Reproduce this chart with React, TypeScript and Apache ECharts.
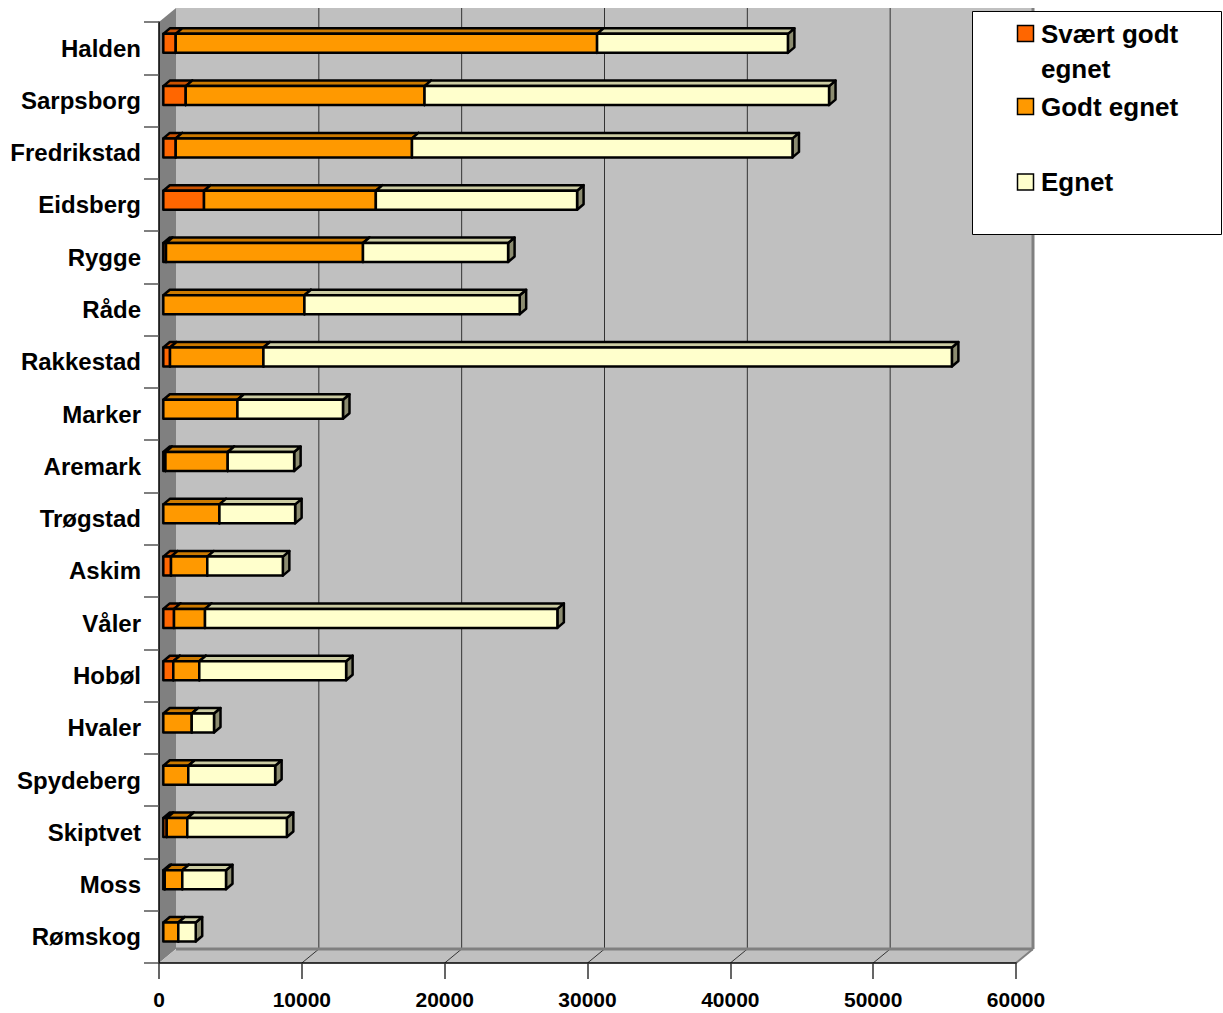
import React, { useEffect, useRef } from 'react';
import * as echarts from 'echarts';

// Municipalities (top to bottom) and area per suitability class
const municipalities = [
  'Halden', 'Sarpsborg', 'Fredrikstad', 'Eidsberg', 'Rygge', 'Råde', 'Rakkestad', 'Marker', 'Aremark',
  'Trøgstad', 'Askim', 'Våler', 'Hobøl', 'Hvaler', 'Spydeberg', 'Skiptvet', 'Moss', 'Rømskog',
];
const svaertGodtEgnet = [870, 1570, 870, 2850, 190, 0, 470, 0, 150, 0, 540, 750, 700, 0, 0, 240, 100, 0];
const godtEgnet = [29500, 16720, 16540, 12030, 13790, 9880, 6540, 5190, 4360, 3930, 2540, 2170, 1820, 1990, 1750, 1440, 1230, 1050];
const egnet = [13360, 28320, 26640, 14090, 10160, 15070, 48200, 7390, 4650, 5300, 5290, 24670, 10280, 1560, 6080, 6970, 3060, 1220];

const seriesNames = ['Svært godt egnet', 'Godt egnet', 'Egnet'];
const legendLabels = ['Svært godt\negnet', 'Godt egnet', 'Egnet'];
const seriesColors = ['#FF6600', '#FF9900', '#FFFFCC'];
const xTicks = [0, 10000, 20000, 30000, 40000, 50000, 60000];

const FONT = '"Liberation Sans", Arial, Helvetica, sans-serif';

// Perspective offsets of the 3D look
const WALL_DX = 17;
const WALL_DY = -14;
const BAR_OX = 4.3;
const BAR_OY = -4.8;
const BAR_DX = 6.5;
const BAR_DY = -5.5;
const BAR_H = 19;

function shade(hex: string, f: number): string {
  const n = parseInt(hex.slice(1), 16);
  const r = Math.round(((n >> 16) & 255) * f);
  const g = Math.round(((n >> 8) & 255) * f);
  const b = Math.round((n & 255) * f);
  return `rgb(${r},${g},${b})`;
}

export default function App() {
  const ref = useRef<HTMLDivElement>(null);

  useEffect(() => {
    if (!ref.current) return;
    const chart = echarts.init(ref.current, undefined, { renderer: 'svg' });

    const classes = [svaertGodtEgnet, godtEgnet, egnet];
    const stacked = classes.map((vals, s) =>
      vals.map((v, i) => {
        let start = 0;
        for (let k = 0; k < s; k++) start += classes[k][i];
        return [i, start, start + v];
      })
    );

    const wallSeries: any = {
      type: 'custom',
      name: 'walls',
      silent: true,
      z: 1,
      encode: { x: 0, y: 1 },
      data: [[0, 0]],
      renderItem: (params: any, api: any) => {
        const cs = params.coordSys;
        const gx = cs.x, gy = cs.y, gw = cs.width, gh = cs.height;
        const by = gy + gh;
        const children: any[] = [
          {
            type: 'polygon',
            shape: { points: [[gx + WALL_DX, gy + WALL_DY], [gx + gw + WALL_DX, gy + WALL_DY], [gx + gw + WALL_DX, by + WALL_DY], [gx + WALL_DX, by + WALL_DY]] },
            style: { fill: '#C0C0C0' },
          },
          {
            type: 'polygon',
            shape: { points: [[gx, gy], [gx + WALL_DX, gy + WALL_DY], [gx + WALL_DX, by + WALL_DY], [gx, by]] },
            style: { fill: '#808080' },
          },
          {
            type: 'polygon',
            shape: { points: [[gx, by], [gx + WALL_DX, by + WALL_DY], [gx + gw + WALL_DX, by + WALL_DY], [gx + gw, by]] },
            style: { fill: '#C0C0C0' },
          },
        ];
        xTicks.forEach((v) => {
          if (v === 0) return;
          const fx = api.coord([v, 0])[0];
          if (v < xTicks[xTicks.length - 1]) {
            children.push({
              type: 'line',
              shape: { x1: fx + WALL_DX, y1: gy + WALL_DY, x2: fx + WALL_DX, y2: by + WALL_DY },
              style: { stroke: '#333333', lineWidth: 1 },
            });
            children.push({
              type: 'line',
              shape: { x1: fx, y1: by, x2: fx + WALL_DX, y2: by + WALL_DY },
              style: { stroke: '#333333', lineWidth: 1 },
            });
          }
        });
        children.push({
          type: 'line',
          shape: { x1: gx + WALL_DX, y1: by + WALL_DY, x2: gx + gw + WALL_DX, y2: by + WALL_DY },
          style: { stroke: '#808080', lineWidth: 3 },
        });
        children.push({
          type: 'line',
          shape: { x1: gx + gw + WALL_DX, y1: gy + WALL_DY, x2: gx + gw + WALL_DX, y2: by + WALL_DY },
          style: { stroke: '#808080', lineWidth: 3 },
        });
        children.push({
          type: 'line',
          shape: { x1: gx + gw, y1: by, x2: gx + gw + WALL_DX, y2: by + WALL_DY },
          style: { stroke: '#808080', lineWidth: 2 },
        });
        return { type: 'group', children };
      },
    };

    const barSeries: any[] = stacked.map((data, s) => ({
      type: 'custom',
      name: seriesNames[s],
      z: 2 + s,
      encode: { y: 0, x: [1, 2] },
      itemStyle: { color: seriesColors[s] },
      data,
      renderItem: (_params: any, api: any) => {
        const cat = api.value(0);
        const a = api.value(1);
        const b = api.value(2);
        if (!(b - a > 0)) return { type: 'group', children: [] };
        const p0 = api.coord([a, cat]);
        const p1 = api.coord([b, cat]);
        const x0 = p0[0] + BAR_OX;
        const x1 = p1[0] + BAR_OX;
        const yc = p0[1] + BAR_OY;
        const top = yc - BAR_H / 2;
        const bot = yc + BAR_H / 2;
        const base = seriesColors[s];
        const edge = { stroke: '#000', lineWidth: 2.5, lineJoin: 'round' };
        return {
          type: 'group',
          children: [
            {
              type: 'polygon',
              shape: { points: [[x1, top], [x1 + BAR_DX, top + BAR_DY], [x1 + BAR_DX, bot + BAR_DY], [x1, bot]] },
              style: { fill: shade(base, 0.55), ...edge },
            },
            {
              type: 'polygon',
              shape: { points: [[x0, top], [x0 + BAR_DX, top + BAR_DY], [x1 + BAR_DX, top + BAR_DY], [x1, top]] },
              style: { fill: shade(base, 0.8), ...edge },
            },
            {
              type: 'rect',
              shape: { x: x0, y: top, width: x1 - x0, height: BAR_H },
              style: { fill: base, ...edge },
            },
          ],
        };
      },
    }));

    // Legend box
    const legendCenters = [33.5, 106.5, 182];
    const graphic: any[] = [
      {
        type: 'rect',
        z: 20,
        shape: { x: 972.5, y: 11.5, width: 249, height: 223 },
        style: { fill: '#FFFFFF', stroke: '#000000', lineWidth: 1 },
      },
    ];
    legendLabels.forEach((label, i) => {
      const cy = legendCenters[i];
      graphic.push({
        type: 'rect',
        z: 21,
        shape: { x: 1017.5, y: cy - 8, width: 16, height: 16 },
        style: { fill: seriesColors[i], stroke: '#000000', lineWidth: 1.5 },
      });
      graphic.push({
        type: 'text',
        z: 21,
        x: 1041,
        y: cy - 17.5,
        style: {
          text: label,
          font: `bold 26px ${FONT}`,
          fill: '#000000',
          lineHeight: 35,
          align: 'left',
          verticalAlign: 'top',
          textAlign: 'left',
          textVerticalAlign: 'top',
        },
      });
    });

    chart.setOption({
      animation: false,
      backgroundColor: '#FFFFFF',
      grid: { left: 159, top: 22, width: 857, height: 941, containLabel: false },
      xAxis: {
        type: 'value',
        min: 0,
        max: 60000,
        interval: 10000,
        z: 5,
        axisLine: { show: true, lineStyle: { color: '#000000', width: 1.5 } },
        axisTick: { show: true, length: 16, lineStyle: { color: '#333333', width: 1.5 } },
        axisLabel: {
          margin: 26,
          fontSize: 21,
          fontWeight: 'bold',
          fontFamily: FONT,
          color: '#000000',
          formatter: (v: number) => String(v),
        },
        splitLine: { show: false },
      },
      yAxis: {
        type: 'category',
        inverse: true,
        data: municipalities,
        z: 5,
        axisLine: { show: true, lineStyle: { color: '#000000', width: 1.5 } },
        axisTick: { show: true, length: 15, lineStyle: { color: '#555555', width: 1.5 } },
        axisLabel: { margin: 18, fontSize: 24, fontWeight: 'bold', fontFamily: FONT, color: '#000000' },
        splitLine: { show: false },
      },
      graphic,
      series: [wallSeries, ...barSeries],
    });

    return () => chart.dispose();
  }, []);

  return (
    <div
      ref={ref}
      style={{ position: 'fixed', left: 0, top: 0, width: 1223, height: 1013, background: '#fff' }}
    />
  );
}
